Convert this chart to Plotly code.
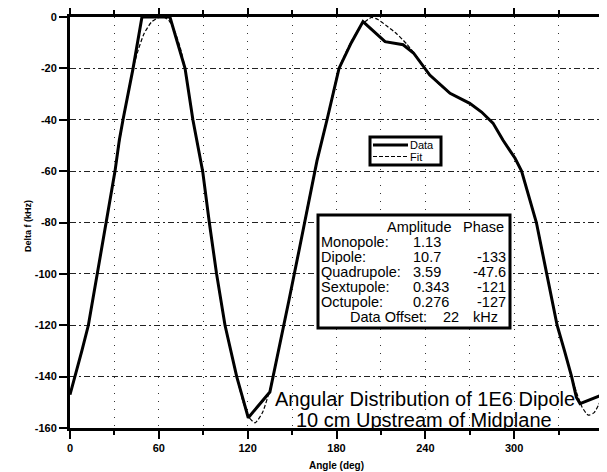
import plotly.graph_objects as go

# ---- data ----
data_angle = [0, 3.4, 8, 12.4, 18.4, 24.3, 30.4, 33.3, 35.8, 42.6, 48.6, 67.5, 77.7, 83, 85.5,
              89.6, 94.1, 99, 104.7, 112.6, 116.5, 120.4, 135, 141, 148, 155, 160, 166.8, 173.6,
              181.7, 190, 197.9, 212.8, 225, 232, 243, 256.7, 270, 278, 285.7, 292.5, 300.6,
              305, 310, 315, 322, 329, 334, 338.8, 342, 344.5, 360]
data_df = [-147, -140, -130, -120, -100, -80, -60, -48, -40, -20, 0, 0, -20, -40, -48,
           -60, -80, -100, -120, -140, -148, -156, -146, -130, -110, -90, -75, -56, -40,
           -20, -10, -1.8, -9.6, -10.8, -14, -22.6, -29.7, -33.6, -37, -41.3, -48, -55,
           -60, -70, -80, -100, -120, -130, -140, -148, -150.5, -147]

fit_angle = [0, 3.4, 12.4, 18.4, 24.3, 30.4, 35.8, 42.6, 46, 50, 55, 60, 63, 67, 71, 74.5, 77.7,
             83, 89.6, 94.1, 99, 104.7, 112.6, 117, 121, 125, 130, 135, 141, 148, 155, 160,
             166.8, 173.6, 181.7, 190, 197, 203.7, 208, 214, 220.6, 227.4, 235, 243, 256.7,
             270, 278, 285.7, 292.5, 300.6, 305, 310, 315, 322, 329, 334, 338.8, 342, 346,
             350, 354, 357, 360]
fit_df = [-147, -140, -120, -100, -80, -60, -40, -20, -13, -6.5, -2, -0.2, 0, -1.5, -6, -12, -20,
          -40, -60, -80, -100, -120, -140, -150, -156, -158, -154, -145, -129, -110, -90, -75,
          -56, -40, -20, -9.5, -3, -0.2, -1, -3.5, -6.5, -10.5, -16, -22.6, -29.7,
          -33.6, -37, -41.3, -48, -55, -60, -70, -80, -100, -120, -130, -140, -146, -152,
          -155, -154, -151, -147]

x_ticks = [0, 60, 120, 180, 240, 300, 360]
y_ticks = [0, -20, -40, -60, -80, -100, -120, -140, -160]
x_title = "Angle (deg)"
y_title = "Delta f (kHz)"
series_names = ["Data", "Fit"]

table_header = ["Amplitude", "Phase"]
multipoles = ["Monopole:", "Dipole:", "Quadrupole:", "Sextupole:", "Octupole:"]
amplitudes = ["1.13", "10.7", "3.59", "0.343", "0.276"]
phases = ["", "-133", "-47.6", "-121", "-127"]
offset_label = "Data Offset:"
offset_value = "22"
offset_unit = "kHz"

title_lines = ["Angular Distribution of 1E6 Dipole", "10 cm Upstream of Midplane"]

# ---- layout geometry (window pixels; page body has an 8px margin) ----
BODY = 8
W, H = 607 - BODY, 472 - BODY
PL, PR, PT, PB = 70, 603, 17, 428          # plot area in window pixels
L, T = PL - BODY, PT - BODY
R = W - (PR - BODY)
B = H - (PB - BODY)
PW, PH = PR - PL, PB - PT


def px(xp):
    return (xp - PL) / PW


def py(yp):
    return 1 - (yp - PT) / PH


FONT = "Liberation Sans, Arial, Helvetica, sans-serif"

DATA_LINE = dict(color="black", width=3)
FIT_LINE = dict(color="black", width=1.2, dash="4px,2px")

fig = go.Figure()
fig.add_trace(go.Scatter(x=data_angle, y=data_df, mode="lines", name=series_names[0],
                         line=DATA_LINE, showlegend=False))
fig.add_trace(go.Scatter(x=fit_angle, y=fit_df, mode="lines", name=series_names[1],
                         line=dict(FIT_LINE, shape="spline", smoothing=0.6), showlegend=False))

fig.update_layout(
    width=W, height=H,
    margin=dict(l=L, r=R, t=T, b=B, autoexpand=False),
    paper_bgcolor="white", plot_bgcolor="white",
    font=dict(family=FONT, color="black"),
    showlegend=False,
)

fig.update_xaxes(
    range=[0, 360], tickvals=x_ticks, ticktext=[f"<b>{v}</b>" for v in x_ticks],
    ticks="outside", ticklen=8, tickwidth=2, tickcolor="black",
    showline=True, linecolor="black", linewidth=3, mirror="allticks",
    showgrid=True, gridcolor="#333", gridwidth=1, griddash="1px,7px",
    minor=dict(dtick=30, ticks="outside", ticklen=4, tickwidth=1.5, tickcolor="black",
               showgrid=True, gridcolor="#333", gridwidth=1, griddash="1px,7px"),
    tickfont=dict(size=11, family=FONT),
    zeroline=False, automargin=False,
)
fig.update_yaxes(
    range=[-160, 0], tickvals=y_ticks, ticktext=[f"<b>{v}</b>" for v in y_ticks],
    ticks="outside", ticklen=8, tickwidth=2, tickcolor="black",
    showline=True, linecolor="black", linewidth=3, mirror="allticks",
    showgrid=True, gridcolor="#222", gridwidth=0.8, griddash="6px,3px,2px,3px",
    tickfont=dict(size=11, family=FONT),
    zeroline=False, automargin=False,
)

# axis titles
fig.add_annotation(text=f"<b>{x_title}</b>", xref="paper", yref="paper",
                   x=px(336), y=py(465), xanchor="center", yanchor="middle",
                   showarrow=False, font=dict(size=10, family=FONT))
fig.add_annotation(text=f"<b>{y_title}</b>", xref="paper", yref="paper",
                   x=px(28), y=py(226), xanchor="center", yanchor="middle",
                   textangle=-90, showarrow=False, font=dict(size=9, family=FONT))


def txt(text, xp, yp, anchor="left", size=14.5):
    fig.add_annotation(text=text, xref="paper", yref="paper", x=px(xp), y=py(yp),
                       xanchor=anchor, yanchor="middle", showarrow=False,
                       font=dict(size=size, family=FONT, color="black"), borderpad=0)


# ---- legend box ----
fig.add_shape(type="rect", xref="paper", yref="paper",
              x0=px(370), x1=px(441), y0=py(165), y1=py(137),
              line=dict(color="black", width=3), fillcolor="white", layer="above")
fig.add_shape(type="line", xref="paper", yref="paper",
              x0=px(373), x1=px(408), y0=py(145), y1=py(145), line=DATA_LINE, layer="above")
fig.add_shape(type="line", xref="paper", yref="paper",
              x0=px(373), x1=px(408), y0=py(156.5), y1=py(156.5), line=FIT_LINE, layer="above")
txt(series_names[0], 409, 144.5, size=11)
txt(series_names[1], 409, 157, size=11)

# ---- multipole table box ----
fig.add_shape(type="rect", xref="paper", yref="paper",
              x0=px(318), x1=px(510), y0=py(328), y1=py(215),
              line=dict(color="black", width=3), fillcolor="white", layer="above")

txt(table_header[0], 386, 227)
txt(table_header[1], 462, 227)
row_y = [242, 257, 272, 287, 302]
for lab, amp, ph, ry in zip(multipoles, amplitudes, phases, row_y):
    txt(lab, 320, ry)
    txt(amp, 412, ry)
    if ph:
        txt(ph, 507, ry, anchor="right")
txt(offset_label, 349, 316.5)
txt(offset_value, 442, 316.5)
txt(offset_unit, 472, 316.5)

# ---- title lines ----
txt(title_lines[0], 425, 399, anchor="center", size=20)
txt(title_lines[1], 424, 420, anchor="center", size=20)

fig.write_html("out.html")
